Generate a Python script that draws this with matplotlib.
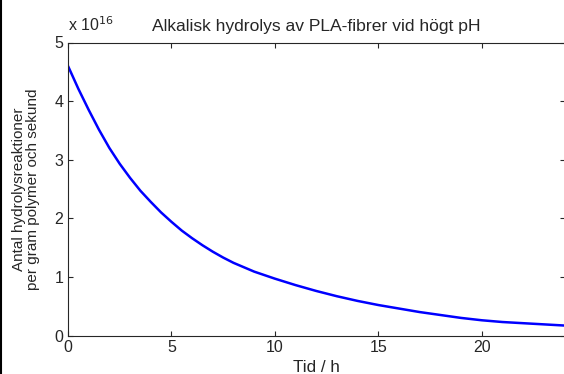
import matplotlib
matplotlib.use("Agg")
import matplotlib.pyplot as plt
from matplotlib.lines import Line2D

# hours and reaction rate (units of 1e16 per gram polymer and second)
tid_h = [0, 0.5, 1, 1.5, 2, 2.5, 3, 3.5, 4, 4.5, 5, 5.5, 6, 6.5, 7, 7.5, 8,
         9, 10, 11, 12, 13, 14, 15, 16, 17, 18, 19, 20, 21, 22, 23, 24]
rate_e16 = [4.60, 4.21, 3.85, 3.51, 3.20, 2.93, 2.69, 2.47, 2.28, 2.10, 1.94, 1.79, 1.66,
            1.54, 1.43, 1.33, 1.24,
            1.09, 0.97, 0.86, 0.76, 0.67, 0.59, 0.52, 0.46, 0.40, 0.35, 0.30, 0.26,
            0.23, 0.21, 0.19, 0.17]
x_ticks = [0, 5, 10, 15, 20]
y_ticks = [0, 1, 2, 3, 4, 5]

plt.rcParams["font.family"] = ["Liberation Sans", "DejaVu Sans"]
fig = plt.figure(figsize=(5.64, 3.74), dpi=100)
W, H = 564, 374
L, R, B, T = 68, 564.5, 374 - 335.5, 374 - 42.5
ax = fig.add_axes([L / W, B / H, (R - L) / W, (T - B) / H])
ink = "#262626"

ax.plot(tid_h, rate_e16, color="#0000ff", lw=1.8, solid_capstyle="butt")
ax.set_xlim(0, 24); ax.set_ylim(0, 5)
ax.set_xticks(x_ticks); ax.set_yticks(y_ticks)
ax.tick_params(direction="in", length=3.6, width=0.8, top=True, right=True,
               labelsize=11.5, colors=ink, pad=3.5)
for s in ax.spines.values():
    s.set_color(ink); s.set_linewidth(0.8)

ax.set_title("Alkalisk hydrolys av PLA-fibrer vid högt pH", fontsize=12.6, pad=8.6, color=ink)
ax.annotate(r"x 10$^{16}$", xy=(0, 1), xycoords="axes fraction", xytext=(0, 8.6),
            textcoords="offset points", fontsize=11.5, color=ink, ha="left", va="baseline")
ax.set_xlabel("Tid / h", fontsize=12.3, labelpad=3.5, color=ink)
ax.set_ylabel("Antal hydrolysreaktioner\nper gram polymer och sekund", fontsize=11,
              labelpad=10, linespacing=1.0, color=ink)

# dark frame line on the left edge of the screenshot
fig.add_artist(Line2D([0.002, 0.002], [0, 1], transform=fig.transFigure, color="black", lw=1.5))

fig.savefig("out.png", dpi=100)
